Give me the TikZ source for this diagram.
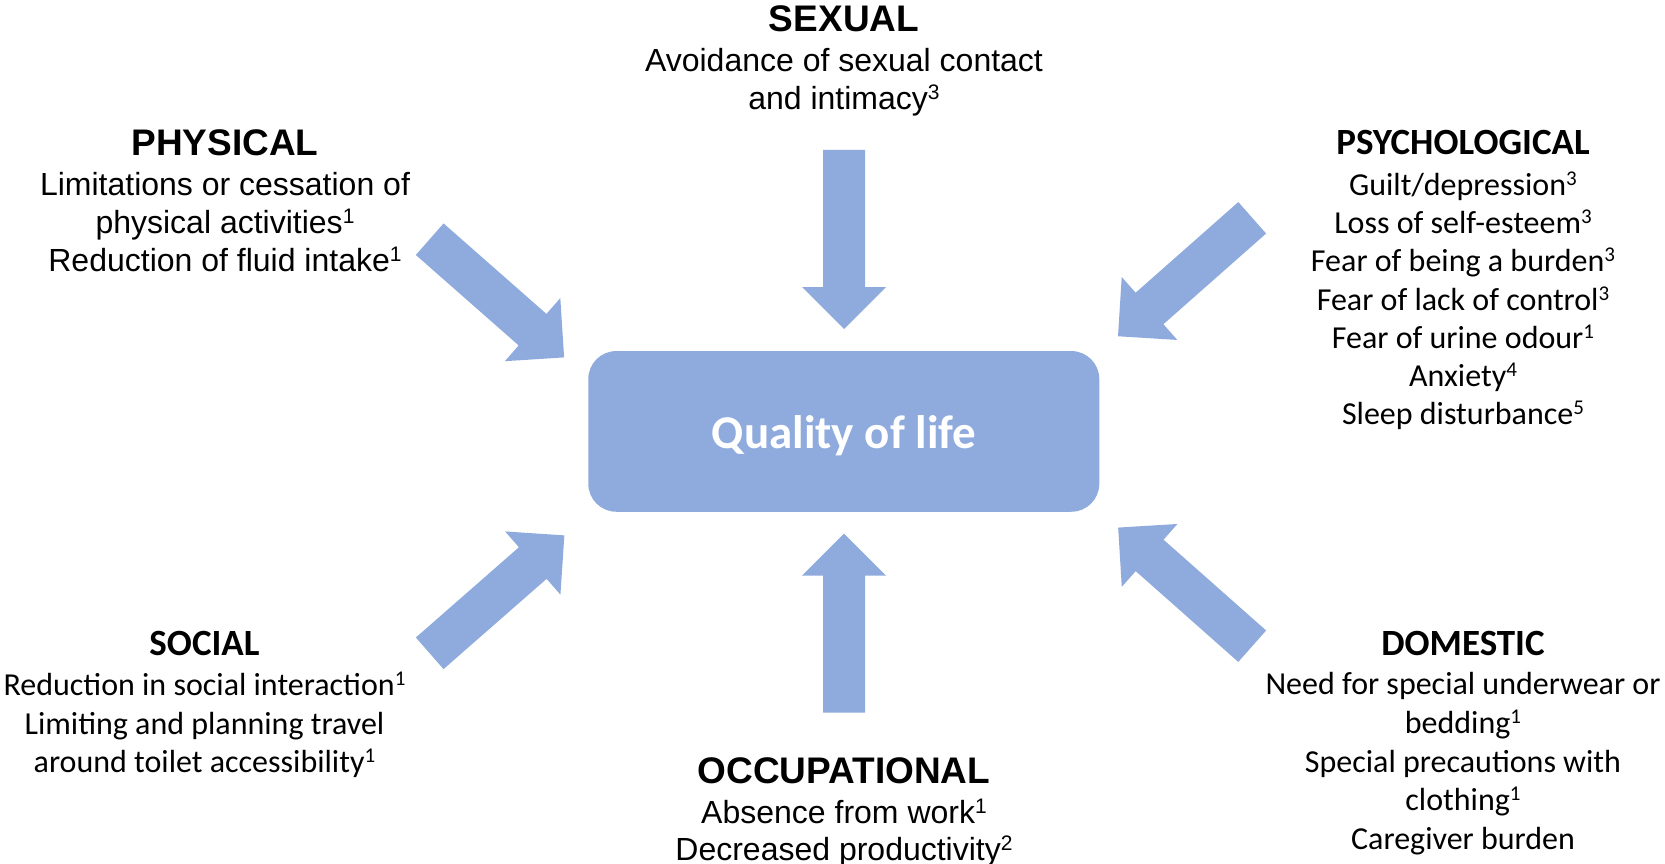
\documentclass[tikz,border=0pt]{standalone}
\usepackage{fontspec}
\setmainfont{Liberation Sans}
\newfontfamily\calibri{Carlito}
\definecolor{qolblue}{HTML}{8FAADC}

% reference numbers set as small raised digits
\newcommand{\refmark}[1]{\raisebox{10pt}{\fontsize{21}{21}\selectfont #1}}

% broad block arrow from a tail coordinate towards a tip coordinate
\newcommand{\fatarrow}[2]{%
  \pgfmathanglebetweenpoints{\pgfpointanchor{#1}{center}}{\pgfpointanchor{#2}{center}}%
  \let\fatarrowangle\pgfmathresult
  \fill[qolblue, shift={(#1)}, rotate=\fatarrowangle]
    (0,-21) -- (137,-21) -- (137,-42) -- (179,0) -- (137,42) -- (137,21) -- (0,21) -- cycle;}

\tikzset{
  arialhead/.style={anchor=base, inner sep=0pt, font=\fontsize{37}{44}\selectfont\bfseries},
  arialbody/.style={anchor=base, inner sep=0pt, font=\fontsize{32}{38}\selectfont},
  calhead/.style={anchor=base, inner sep=0pt, font=\calibri\fontsize{37}{44}\selectfont\bfseries},
  calbody/.style={anchor=base, inner sep=0pt, font=\calibri\fontsize{32}{38}\selectfont},
  qolbox/.style={fill=qolblue, rounded corners=28pt, minimum width=511pt,
                 minimum height=160.7pt, inner sep=0pt},
  qoltext/.style={anchor=base, inner sep=0pt, text=white,
                  font=\calibri\fontsize{47}{56}\selectfont\bfseries},
}

\begin{document}
\begin{tikzpicture}[x=1pt, y=-1pt]
  \useasboundingbox (0,0) rectangle (1665,864);
  \fill[white] (0,0) rectangle (1665,864);

  % central box
  \node[qolbox] (qol) at (843.8,431.4) {};
  \node[qoltext] (qollabel) at (844,448.5) {Quality of life};

  % arrow end points
  \coordinate (sexTail) at (844,150);      \coordinate (sexTip) at (844,328.7);
  \coordinate (occTail) at (844,712.7);    \coordinate (occTip) at (844,534.3);
  \coordinate (phyTail) at (429.7,239.2);  \coordinate (phyTip) at (564,357.3);
  \coordinate (psyTail) at (1252.2,217.8); \coordinate (psyTip) at (1118.3,336);
  \coordinate (socTail) at (429.7,653.3);  \coordinate (socTip) at (564,535.7);
  \coordinate (domTail) at (1252.2,646.2); \coordinate (domTip) at (1118.3,527.7);

  \fatarrow{sexTail}{sexTip}
  \fatarrow{occTail}{occTip}
  \fatarrow{phyTail}{phyTip}
  \fatarrow{psyTail}{psyTip}
  \fatarrow{socTail}{socTip}
  \fatarrow{domTail}{domTip}

  % SEXUAL
  \node[arialhead] (sexH) at (844,31.7) {SEXUAL};
  \foreach \txt [count=\i] in {Avoidance of sexual contact, and intimacy\refmark{3}}
    \node[arialbody] (sex\i) at (844,{71.5+38.3*(\i-1)}) {\txt};

  % PHYSICAL
  \node[arialhead] (phyH) at (225,155) {PHYSICAL};
  \foreach \txt [count=\i] in {Limitations or cessation of, physical activities\refmark{1},
      Reduction of fluid intake\refmark{1}}
    \node[arialbody] (phy\i) at (225,{195.5+38.2*(\i-1)}) {\txt};

  % OCCUPATIONAL
  \node[arialhead] (occH) at (844,783.5) {OCCUPATIONAL};
  \foreach \txt [count=\i] in {Absence from work\refmark{1}, Decreased productivity\refmark{2}}
    \node[arialbody] (occ\i) at (844,{823+37*(\i-1)}) {\txt};

  % PSYCHOLOGICAL
  \node[calhead] (psyH) at (1463,154) {PSYCHOLOGICAL};
  \foreach \txt [count=\i] in {Guilt/depression\refmark{3}, Loss of self-esteem\refmark{3},
      Fear of being a burden\refmark{3}, Fear of lack of control\refmark{3},
      Fear of urine odour\refmark{1}, Anxiety\refmark{4}, Sleep disturbance\refmark{5}}
    \node[calbody] (psy\i) at (1463,{195.5+38.2*(\i-1)}) {\txt};

  % SOCIAL
  \node[calhead] (socH) at (204.5,655.5) {SOCIAL};
  \foreach \txt [count=\i] in {Reduction in social interaction\refmark{1},
      Limiting and planning travel, around toilet accessibility\refmark{1}}
    \node[calbody] (soc\i) at (204.5,{695.8+38.3*(\i-1)}) {\txt};

  % DOMESTIC
  \node[calhead] (domH) at (1463,655.5) {DOMESTIC};
  \foreach \txt [count=\i] in {Need for special underwear or, bedding\refmark{1},
      Special precautions with, clothing\refmark{1}, Caregiver burden}
    \node[calbody] (dom\i) at (1463,{694.5+38.75*(\i-1)}) {\txt};
\end{tikzpicture}
\end{document}
